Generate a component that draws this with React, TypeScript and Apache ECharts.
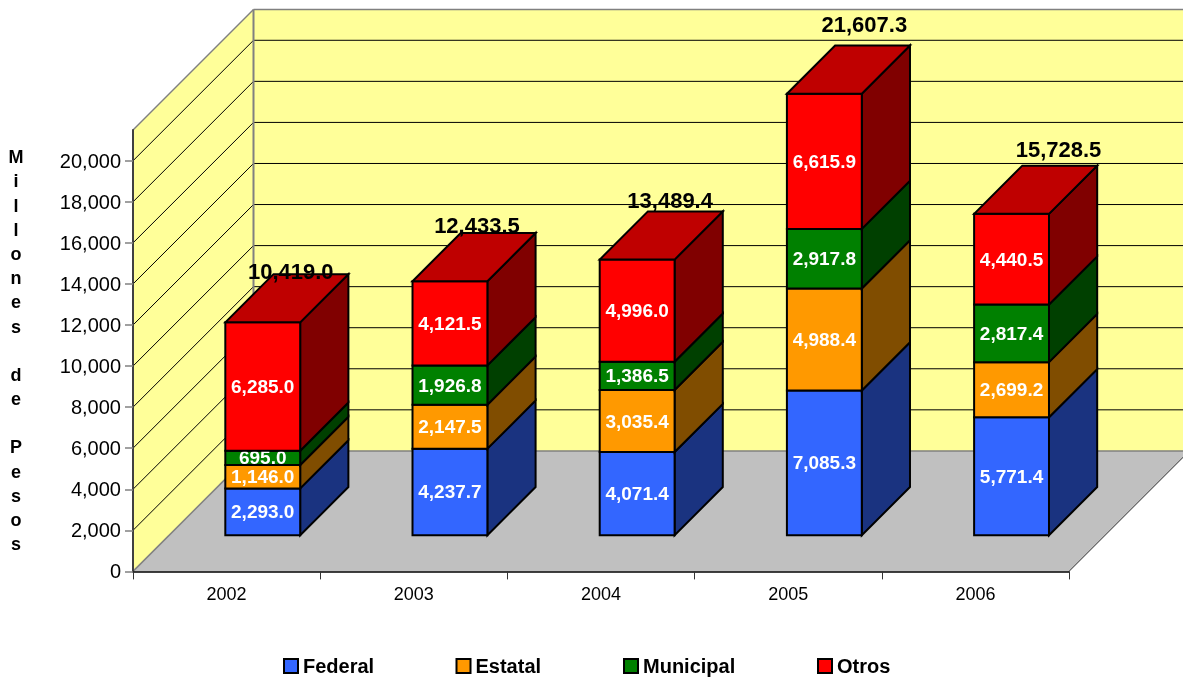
import React, { useEffect, useRef } from "react";
import * as echarts from "echarts";

const years = ["2002", "2003", "2004", "2005", "2006"];
const federal = [2293.0, 4237.7, 4071.4, 7085.3, 5771.4];
const estatal = [1146.0, 2147.5, 3035.4, 4988.4, 2699.2];
const municipal = [695.0, 1926.8, 1386.5, 2917.8, 2817.4];
const otros = [6285.0, 4121.5, 4996.0, 6615.9, 4440.5];
const totals = [10419.0, 12433.5, 13489.4, 21607.3, 15728.5];
const yTicks = [0, 2000, 4000, 6000, 8000, 10000, 12000, 14000, 16000, 18000, 20000];
const yTitle = "M\ni\nl\nl\no\nn\ne\ns\n\nd\ne\n\nP\ne\ns\no\ns";

const AXIS_MAX = 21500;
const BAR_AXIS_MAX = 21600;
const DEPTH = 120.5;
const FONT = '"Liberation Sans", Arial, sans-serif';
const fmt = (v: number) =>
  v.toLocaleString("en-US", { minimumFractionDigits: 1, maximumFractionDigits: 1 });

const totalNudge = [
  [28, -3],
  [27, -7],
  [33, -11],
  [40, -21],
  [47, -16],
];

const stacks = [
  { name: "Federal", values: federal, color: "#3366FF", side: "#1A3380" },
  { name: "Estatal", values: estatal, color: "#FF9900", side: "#804D00" },
  { name: "Municipal", values: municipal, color: "#008000", side: "#004000" },
  { name: "Otros", values: otros, color: "#FF0000", side: "#800000", top: "#BF0000" },
];

const poly = (points: number[][], fill: string, stroke: string, lineWidth: number) => ({
  type: "polygon",
  shape: { points },
  style: { fill, stroke, lineWidth, lineJoin: "miter" },
});

function wallRender(_: any, api: any) {
  const catW = api.size([1, 0])[0];
  const [c0, y0] = api.coord([0, 0]);
  const x0 = c0 - catW / 2;
  const x1 = x0 + catW * years.length;
  const [, yTop] = api.coord([0, AXIS_MAX]);
  const d = DEPTH;
  const grey = "#808080";
  const children: any[] = [
    poly([[x0, y0], [x0 + d, y0 - d], [x1 + d, y0 - d], [x1, y0]], "#C0C0C0", "none", 0),
    poly([[x0 + d, y0 - d], [x0 + d, yTop - d], [x1 + d, yTop - d], [x1 + d, y0 - d]], "#FFFF99", "none", 0),
    poly([[x0, y0], [x0, yTop], [x0 + d, yTop - d], [x0 + d, y0 - d]], "#FFFF99", "none", 0),
  ];
  const line = (a: number[], b: number[], stroke: string, lineWidth: number) => ({
    type: "line",
    shape: { x1: a[0], y1: a[1], x2: b[0], y2: b[1] },
    style: { stroke, lineWidth },
  });
  yTicks.slice(1).forEach((t) => {
    const [, y] = api.coord([0, t]);
    children.push(line([x0, y], [x0 + d, y - d], "#000", 1));
    children.push(line([x0 + d, y - d], [x1 + d, y - d], "#000", 1));
  });
  children.push(line([x0 + d, y0 - d], [x0 + d, yTop - d], grey, 2));
  children.push(line([x0, yTop], [x0 + d, yTop - d], grey, 1.5));
  children.push(line([x0 + d, yTop - d], [x1 + d, yTop - d], grey, 1.5));
  children.push(line([x0, y0], [x0 + d, y0 - d], grey, 1.5));
  children.push(line([x0 + d, y0 - d], [x1 + d, y0 - d], grey, 1.5));
  children.push(line([x1, y0], [x1 + d, y0 - d], "#333", 1));
  return { type: "group", children };
}

const barRender = (stack: any) => (_: any, api: any) => {
  const i = api.value(0);
  const base = api.value(1);
  const end = api.value(2);
  const catW = api.size([1, 0])[0];
  const w = catW * 0.4;
  const front = DEPTH * 0.3;
  const bd = DEPTH * 0.4;
  const [cx, yb0] = api.coord([i, base]);
  const [, ye0] = api.coord([i, end]);
  const xl = cx + front - w / 2;
  const xr = xl + w;
  const yb = yb0 - front;
  const ye = ye0 - front;
  const children: any[] = [
    poly([[xr, yb], [xr + bd, yb - bd], [xr + bd, ye - bd], [xr, ye]], stack.side, "#000", 2),
    poly([[xl, ye], [xr, ye], [xr, yb], [xl, yb]], stack.color, "#000", 2),
  ];
  if (stack.top) {
    children.push(poly([[xl, ye], [xl + bd, ye - bd], [xr + bd, ye - bd], [xr, ye]], stack.top, "#000", 2));
  }
  children.push({
    type: "text",
    style: {
      text: fmt(end - base),
      x: (xl + xr) / 2,
      y: (yb + ye) / 2,
      fill: "#fff",
      font: `bold 19px ${FONT}`,
      align: "center",
      verticalAlign: "middle",
    },
  });
  return { type: "group", children };
};

function totalRender(_: any, api: any) {
  const i = api.value(0);
  const v = api.value(1);
  const front = DEPTH * 0.3;
  const bd = DEPTH * 0.4;
  const [cx, y] = api.coord([i, v]);
  return {
    type: "text",
    style: {
      text: fmt(v),
      x: cx + front + totalNudge[i][0],
      y: y - front - bd + totalNudge[i][1],
      fill: "#000",
      font: `bold 22px ${FONT}`,
      align: "center",
      verticalAlign: "middle",
    },
  };
}

const legendLefts = [283, 455.5, 623, 817];

export default function App() {
  const ref = useRef<HTMLDivElement>(null);
  useEffect(() => {
    const chart = echarts.init(ref.current!, undefined, { renderer: "svg" });
    let running = years.map(() => 0);
    const stackSeries = stacks.map((s) => {
      const data = s.values.map((v, i) => [i, running[i], running[i] + v]);
      running = running.map((r, i) => r + s.values[i]);
      return {
        type: "custom",
        name: s.name,
        xAxisIndex: 0,
        yAxisIndex: 1,
        z: 4,
        silent: true,
        itemStyle: { color: s.color, borderColor: "#000", borderWidth: 2 },
        renderItem: barRender(s),
        encode: { x: 0, y: [1, 2] },
        data,
      };
    });
    chart.setOption({
      animation: false,
      textStyle: { fontFamily: FONT },
      grid: { left: 133, right: 114, top: 130, bottom: 107.6, containLabel: false },
      legend: stacks.map((s, i) => ({
        data: [s.name],
        left: legendLefts[i],
        top: 656,
        icon: "rect",
        itemWidth: 14,
        itemHeight: 14,
        padding: 0,
        selectedMode: false,
        textStyle: { fontFamily: FONT, fontSize: 20, fontWeight: "bold", color: "#000" },
      })),
      xAxis: {
        type: "category",
        data: years,
        z: 5,
        axisLine: { lineStyle: { color: "#000", width: 1.5 } },
        axisTick: { show: true, length: 8, lineStyle: { color: "#333", width: 1 } },
        axisLabel: { fontSize: 18, color: "#000", margin: 14, fontFamily: FONT },
        splitLine: { show: false },
      },
      yAxis: [
        {
          type: "value",
          min: 0,
          max: AXIS_MAX,
          interval: 2000,
          z: 5,
          name: yTitle,
          nameLocation: "middle",
          nameRotate: 0,
          nameGap: 117,
          nameTextStyle: { fontFamily: FONT, fontSize: 18, fontWeight: "bold", color: "#000", lineHeight: 24.2, align: "center", verticalAlign: "middle" },
          axisLine: { show: true, lineStyle: { color: "#404040", width: 2 } },
          axisTick: { show: true, length: 8, lineStyle: { color: "#808080", width: 1.5 }, customValues: yTicks },
          axisLabel: {
            fontSize: 20,
            color: "#000",
            margin: 12,
            fontFamily: FONT,
            customValues: yTicks,
            formatter: (v: number) => v.toLocaleString("en-US"),
          },
          splitLine: { show: false },
        },
        { type: "value", min: 0, max: BAR_AXIS_MAX, show: false, splitLine: { show: false } },
      ],
      series: [
        {
          type: "custom",
          name: "walls",
          z: 1,
          silent: true,
          xAxisIndex: 0,
          yAxisIndex: 0,
          renderItem: wallRender,
          encode: { x: 0, y: 1 },
          data: [[0, 0]],
        },
        ...stackSeries,
        {
          type: "custom",
          name: "Total",
          z: 6,
          silent: true,
          xAxisIndex: 0,
          yAxisIndex: 1,
          renderItem: totalRender,
          encode: { x: 0, y: 1 },
          data: totals.map((t, i) => [i, t]),
        },
      ],
    });
    return () => chart.dispose();
  }, []);
  return <div ref={ref} style={{ position: "fixed", left: 0, top: 0, width: 1183, height: 679 }} />;
}
